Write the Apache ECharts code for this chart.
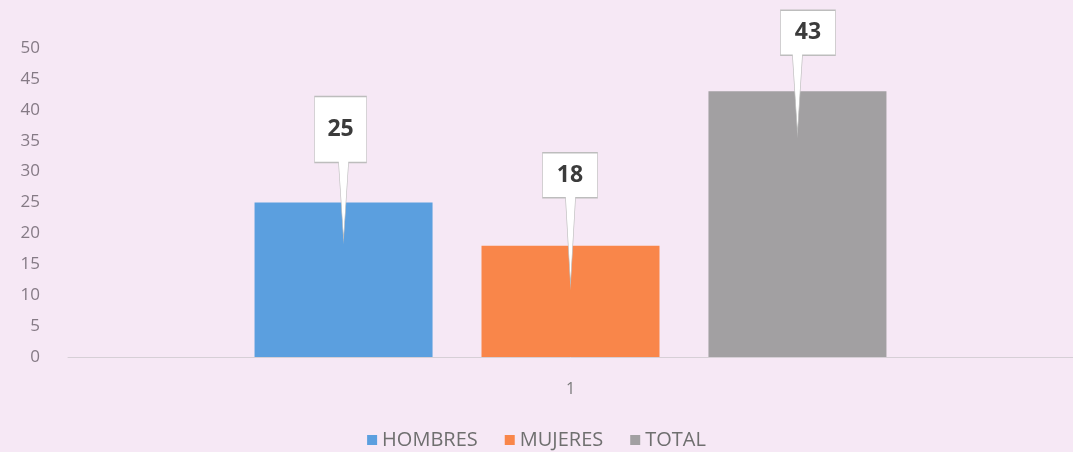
<!DOCTYPE html>
<html>
<head>
	<meta charset="UTF-8" />
	<title>HOMBRES / MUJERES / TOTAL</title>
	<script src="https://cdn.jsdelivr.net/npm/echarts@6/dist/echarts.min.js"></script>
	<style type="text/css">
		html, body {
			margin: 0;
			padding: 0;
			background-color: #f6e8f5;
		}

		#chart {
			width: 1073px;
			height: 452px;
		}
	</style>
</head>
<body>
	<div id="chart"></div>

	<script>
		// ---------------- datos ----------------
		const categories = ['1'];
		const hombres = [25];
		const mujeres = [18];
		const total = [43];
		const yTicks = [0, 5, 10, 15, 20, 25, 30, 35, 40, 45, 50];

		// caja con puntero (como las etiquetas de Excel)
		function callout(w, h, tail, tipX, d) {
			return {
				symbol: 'path://M0,0 L' + w + ',0 L' + w + ',' + h + ' L' + (tipX + 5) + ',' + h +
					' L' + tipX + ',' + (h + tail) + ' L' + (tipX - 5) + ',' + h + ' L0,' + h + ' Z',
				symbolSize: [w, h + tail],
				symbolOffset: [w / 2 - tipX, d - (h + tail) / 2],
				labelOffset: [0, -tail / 2]
			};
		}

		function makeSeries(name, values, color, c) {
			return {
				name: name,
				type: 'bar',
				data: values,
				barWidth: 178,
				barGap: '27.5%',
				itemStyle: { color: color },
				markPoint: {
					data: [{ type: 'max' }],
					symbol: c.symbol,
					symbolSize: c.symbolSize,
					symbolOffset: c.symbolOffset,
					symbolKeepAspect: false,
					itemStyle: {
						color: '#ffffff',
						borderColor: '#bdbdbd',
						borderWidth: 1
					},
					label: {
						show: true,
						position: 'inside',
						offset: c.labelOffset,
						formatter: '{c}',
						color: '#3b3b3b',
						fontSize: 23,
						fontWeight: 'bold',
						fontFamily: 'Open Sans'
					}
				}
			};
		}

		const chart = echarts.init(document.getElementById('chart'));

		chart.setOption({
			backgroundColor: '#f6e8f5',
			animation: false,
			grid: { left: 68, right: 0, top: 48, bottom: 95 },
			legend: {
				bottom: -3,
				left: 'center',
				itemWidth: 10,
				itemHeight: 10,
				itemGap: 27,
				icon: 'rect',
				textStyle: { color: '#6f6f6f', fontSize: 20, fontFamily: 'Open Sans' },
				data: ['HOMBRES', 'MUJERES', 'TOTAL']
			},
			xAxis: {
				type: 'category',
				data: categories,
				axisLine: { lineStyle: { color: '#d6cfd6' } },
				axisTick: { show: false },
				axisLabel: { color: '#7a7a7a', fontSize: 16, margin: 24, fontFamily: 'Open Sans' }
			},
			yAxis: {
				type: 'value',
				min: yTicks[0],
				max: yTicks[yTicks.length - 1],
				interval: yTicks[1] - yTicks[0],
				axisLine: { show: false },
				axisTick: { show: false },
				splitLine: { show: false },
				axisLabel: { color: '#857a85', fontSize: 17, margin: 28, fontFamily: 'Open Sans' }
			},
			series: [
				makeSeries('HOMBRES', hombres, '#5b9fdf', callout(52, 66, 77, 29, 37)),
				makeSeries('MUJERES', mujeres, '#f9864a', callout(55, 45, 87, 28, 39)),
				makeSeries('TOTAL', total, '#a2a0a2', callout(55, 45, 78, 17, 42))
			]
		});
	</script>
</body>
</html>
